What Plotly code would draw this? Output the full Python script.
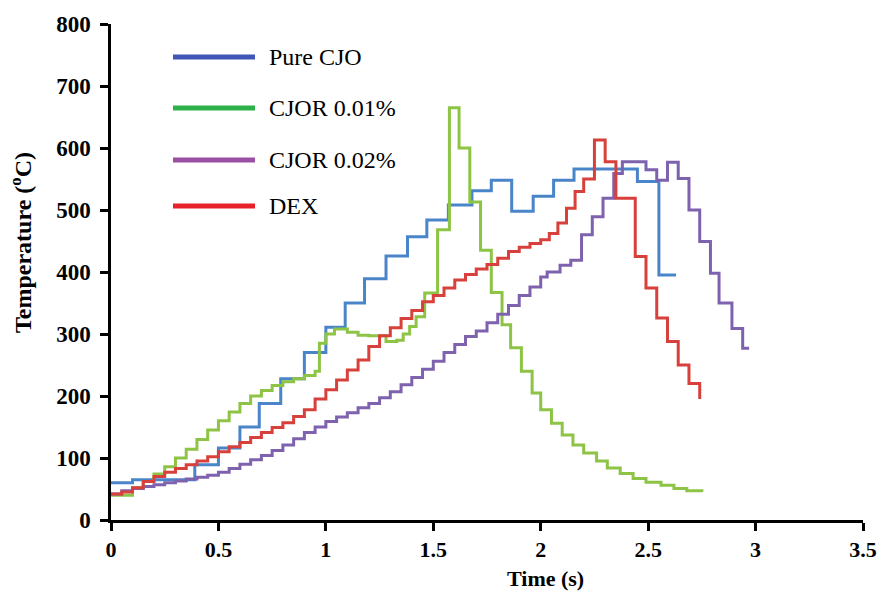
import plotly.graph_objects as go

# ---------------- data ----------------
blue_t = [0.00, 0.10, 0.39, 0.50, 0.60, 0.69, 0.79, 0.90, 1.00, 1.09, 1.18, 1.28, 1.38,
          1.47, 1.57, 1.68, 1.77, 1.865, 1.965, 2.06, 2.155, 2.45, 2.55, 2.63]
blue_T = [60, 65, 89, 116, 150, 188, 228, 270, 311, 350, 389, 426, 457,
          484, 508, 531, 548, 498, 522, 548, 566, 546, 395, 395]

green_t = [0.00, 0.05, 0.10, 0.15, 0.20, 0.25, 0.30, 0.35, 0.40, 0.45, 0.50, 0.55, 0.60,
           0.65, 0.70, 0.75, 0.80, 0.85, 0.90, 0.95, 0.97, 1.00, 1.04, 1.10, 1.15, 1.20,
           1.25, 1.28, 1.33, 1.36, 1.39, 1.42, 1.46, 1.52, 1.575, 1.62, 1.67, 1.72, 1.77,
           1.82, 1.86, 1.91, 1.96, 2.00, 2.05, 2.10, 2.15, 2.20, 2.26, 2.31, 2.37, 2.43,
           2.49, 2.56, 2.62, 2.68, 2.75]
green_T = [40, 40, 52, 62, 74, 86, 100, 114, 130, 145, 160, 174, 188,
           200, 209, 217, 223, 228, 233, 240, 285, 300, 308, 303, 298, 297,
           297, 288, 290, 300, 312, 328, 366, 468, 665, 600, 513, 435, 367,
           315, 278, 240, 205, 178, 156, 137, 121, 108, 95, 84, 75, 67,
           61, 56, 51, 47, 45]

purple_t = [0.00, 0.05, 0.10, 0.15, 0.20, 0.25, 0.30, 0.35, 0.40, 0.45, 0.50, 0.55, 0.60,
            0.65, 0.70, 0.75, 0.80, 0.85, 0.90, 0.95, 1.00, 1.05, 1.10, 1.15, 1.20, 1.25,
            1.30, 1.35, 1.40, 1.45, 1.50, 1.55, 1.60, 1.65, 1.70, 1.75, 1.80, 1.85, 1.90,
            1.95, 2.00, 2.03, 2.09, 2.14, 2.19, 2.24, 2.29, 2.34, 2.38, 2.49, 2.54, 2.59,
            2.64, 2.69, 2.74, 2.79, 2.83, 2.89, 2.94, 2.97]
purple_T = [42, 47, 51, 54, 57, 60, 63, 66, 69, 72, 77, 83, 90,
            97, 104, 112, 121, 131, 141, 150, 159, 166, 173, 181, 188, 197,
            207, 218, 230, 243, 256, 270, 283, 296, 305, 318, 332, 346, 362,
            376, 392, 400, 411, 419, 460, 489, 519, 559, 578, 565, 548, 577,
            551, 500, 449, 398, 350, 309, 277, 277]

red_t = [0.00, 0.05, 0.10, 0.15, 0.20, 0.25, 0.30, 0.35, 0.40, 0.45, 0.50, 0.55, 0.60,
         0.65, 0.70, 0.75, 0.80, 0.85, 0.90, 0.95, 1.00, 1.05, 1.10, 1.15, 1.20, 1.25,
         1.30, 1.35, 1.40, 1.45, 1.50, 1.55, 1.60, 1.65, 1.70, 1.75, 1.80, 1.85, 1.90,
         1.95, 2.00, 2.04, 2.08, 2.12, 2.16, 2.20, 2.25, 2.30, 2.35, 2.44, 2.49, 2.54,
         2.59, 2.64, 2.69, 2.74]
red_T = [42, 45, 52, 62, 70, 77, 83, 89, 95, 102, 110, 118, 125,
         133, 141, 149, 157, 167, 178, 195, 210, 226, 242, 258, 280, 297,
         310, 325, 338, 352, 362, 374, 387, 396, 405, 412, 422, 433, 440,
         446, 452, 462, 479, 503, 530, 550, 613, 578, 519, 425, 374, 326,
         288, 250, 220, 195]

series_names = ["Pure CJO", "CJOR 0.01%", "CJOR 0.02%", "DEX"]
line_colors = ["#4A85C9", "#8DC446", "#7E62AE", "#D8403B"]
legend_colors = ["#3F56B6", "#2EB04B", "#9A4FA2", "#E5222C"]

x_ticks = [0, 0.5, 1, 1.5, 2, 2.5, 3, 3.5]
x_tick_text = ["0", "0.5", "1", "1.5", "2", "2.5", "3", "3.5"]
y_ticks = [0, 100, 200, 300, 400, 500, 600, 700, 800]

# ---------------- layout helpers ----------------
W, H = 880, 592
L, R, T, B = 111, 863, 24, 520  # plot area in pixels


def px(x):
    return (x - L) / (R - L)


def py(y):
    return (B - y) / (B - T)


FONT = "Liberation Serif, Times New Roman, serif"

fig = go.Figure()
all_t = [blue_t, green_t, purple_t, red_t]
all_T = [blue_T, green_T, purple_T, red_T]
for name, tt, vv, c in zip(series_names, all_t, all_T, line_colors):
    fig.add_trace(go.Scatter(x=tt, y=vv, mode="lines", name=name,
                             line=dict(color=c, width=3, shape="hv"),
                             showlegend=False))

shapes = []
annotations = []
leg_y = [57, 108, 160, 206]
for name, c, yy in zip(series_names, legend_colors, leg_y):
    shapes.append(dict(type="line", xref="paper", yref="paper",
                       x0=px(173), x1=px(255), y0=py(yy), y1=py(yy),
                       line=dict(color=c, width=5)))
    annotations.append(dict(text=name, xref="paper", yref="paper",
                            x=px(267), y=py(yy), xanchor="left", yanchor="middle",
                            showarrow=False,
                            font=dict(family=FONT, size=24, color="black")))

annotations.append(dict(text="<b>Time (s)</b>", xref="paper", yref="paper",
                        x=px(545), y=py(578), xanchor="center", yanchor="middle",
                        showarrow=False, font=dict(family=FONT, size=22, color="black")))
annotations.append(dict(text="<b>Temperature (<sup>o</sup>C)</b>", xref="paper", yref="paper",
                        x=px(21), y=py(243), xanchor="center", yanchor="middle",
                        textangle=-90, showarrow=False,
                        font=dict(family=FONT, size=24, color="black")))

fig.update_layout(
    width=W, height=H,
    margin=dict(l=L, r=W - R, t=T, b=H - B, pad=0, autoexpand=False),
    paper_bgcolor="white", plot_bgcolor="white",
    shapes=shapes, annotations=annotations,
    font=dict(family=FONT, color="black"),
)
fig.update_xaxes(range=[0, 3.5], tickvals=x_ticks, ticktext=x_tick_text,
                 automargin=False,
                 showgrid=False, zeroline=False, showline=True, linecolor="black",
                 linewidth=2.5, ticks="outside", ticklen=8, tickwidth=2.5,
                 tickcolor="black",
                 tickfont=dict(family=FONT, size=22, color="black", weight="bold"))
fig.update_yaxes(range=[0, 800], tickvals=y_ticks,
                 automargin=False, ticklabelstandoff=5,
                 showgrid=False, zeroline=False, showline=True, linecolor="black",
                 linewidth=2.5, ticks="outside", ticklen=8, tickwidth=2.5,
                 tickcolor="black",
                 tickfont=dict(family=FONT, size=23, color="black", weight="bold"))

fig.write_html("out.html")
